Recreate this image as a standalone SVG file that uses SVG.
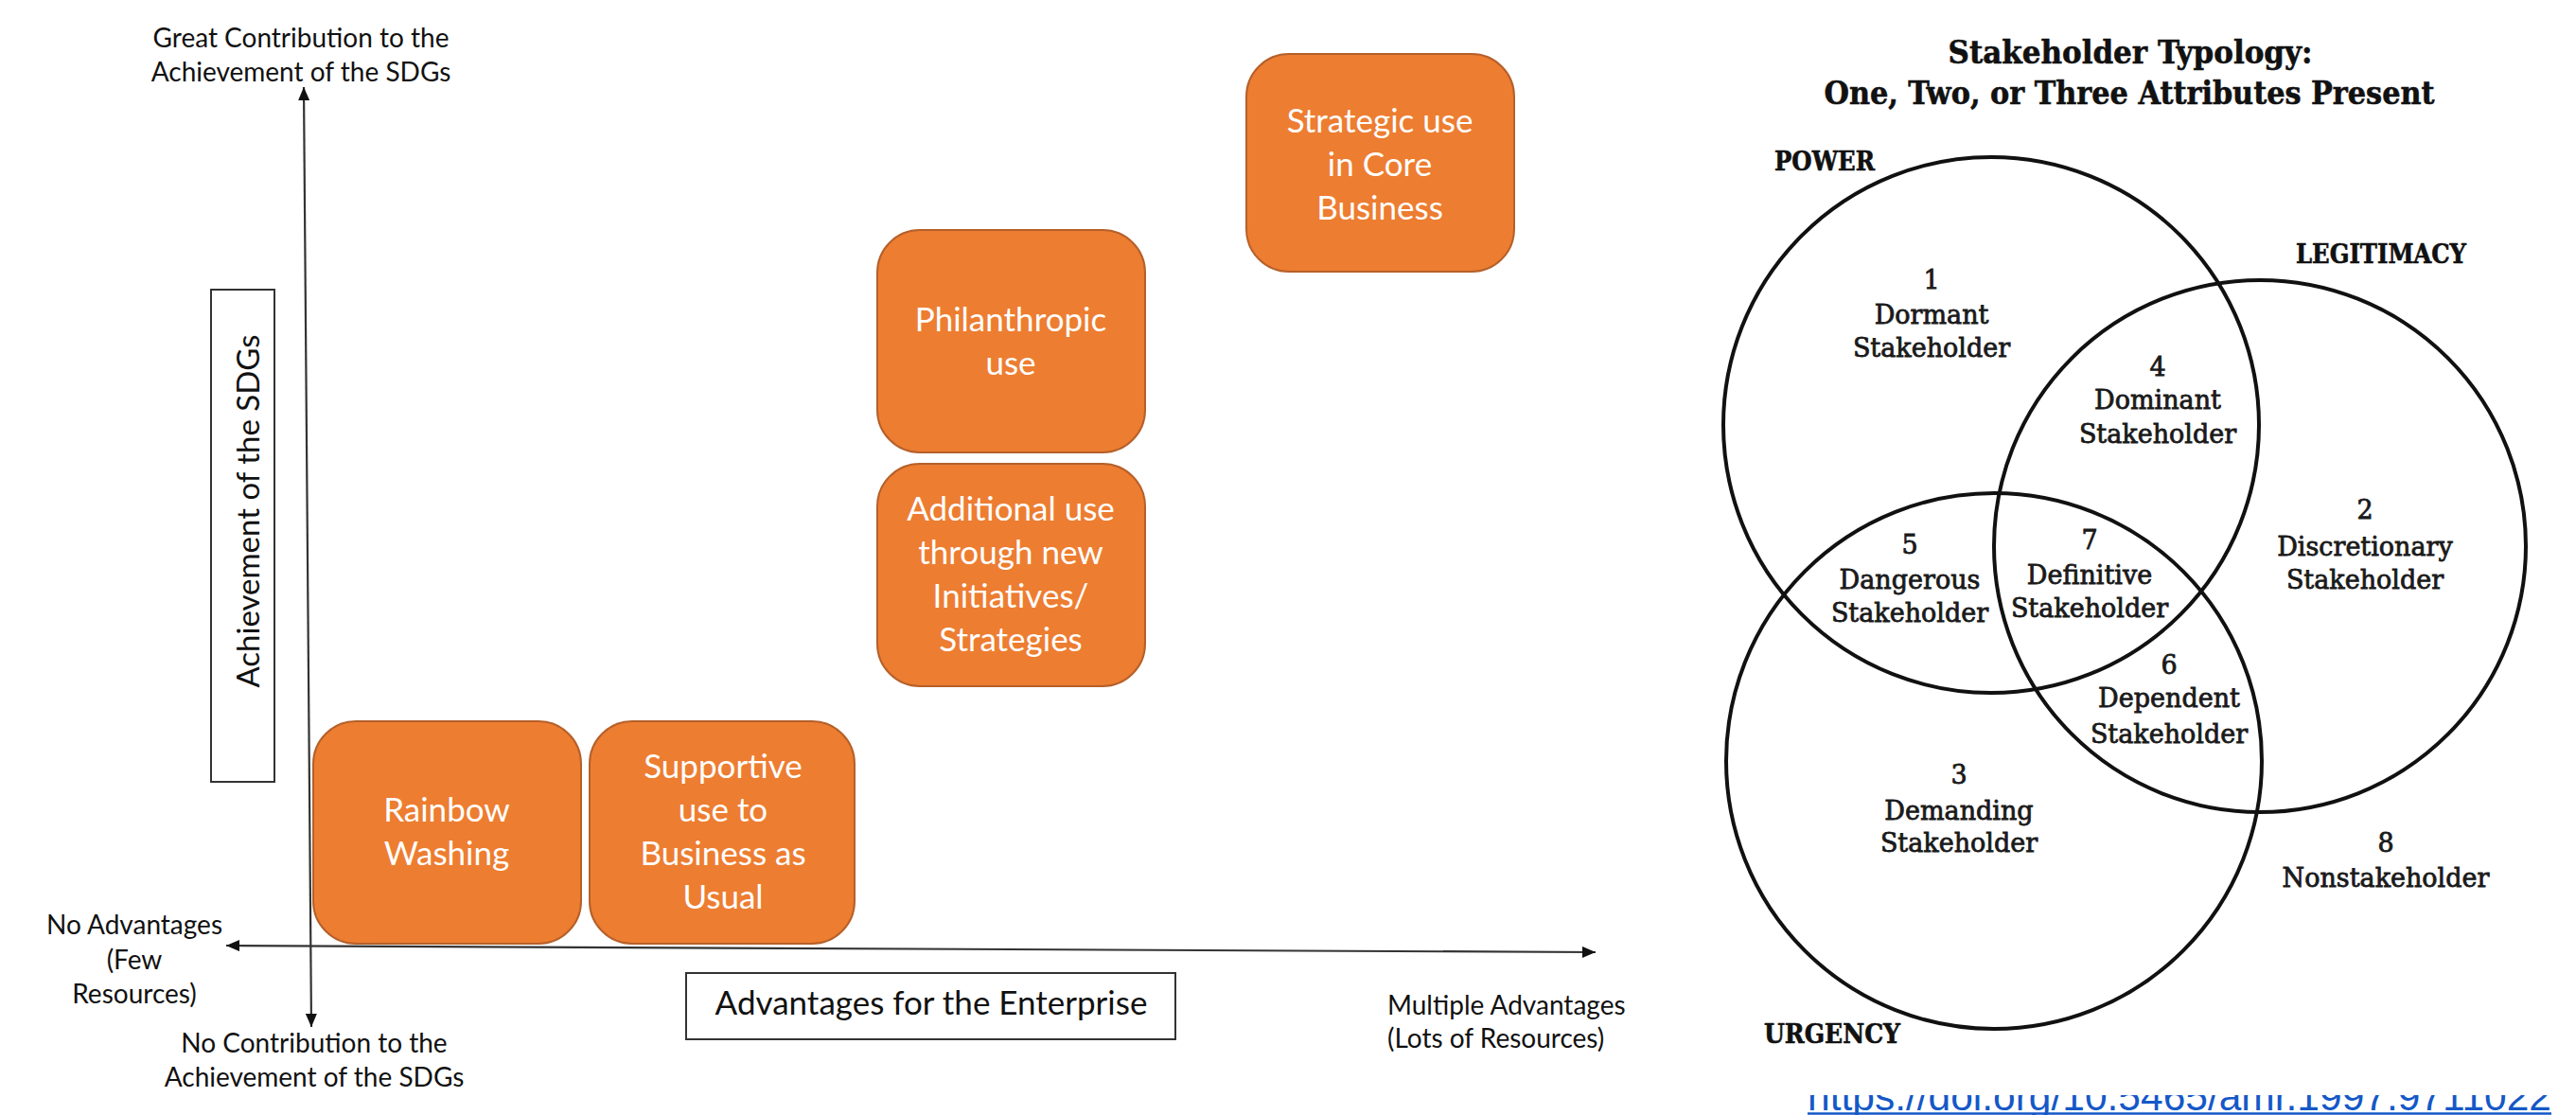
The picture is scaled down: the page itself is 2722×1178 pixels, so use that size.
<svg xmlns="http://www.w3.org/2000/svg" width="2722" height="1178" viewBox="0 0 2722 1178">
<defs>
<style>
.lbl{font-family:Lato,"Open Sans","Liberation Sans",sans-serif;font-size:28px;fill:#111;text-anchor:middle}
.lbl2{font-family:Lato,"Open Sans","Liberation Sans",sans-serif;font-size:35px;fill:#111;text-anchor:middle}
.box{fill:#ED7D31;stroke:#B5602A;stroke-width:2}
.btx{font-family:Lato,"Open Sans","Liberation Sans",sans-serif;font-size:35px;fill:#fff;text-anchor:middle}
.frame{fill:#fff;stroke:#333;stroke-width:2}
.axis{stroke:#333;stroke-width:2.2;fill:none}
.circ{fill:none;stroke:#111;stroke-width:4}
.vt{font-family:"DejaVu Serif","Liberation Serif",serif;font-size:27px;fill:#1a1a1a;stroke:#1a1a1a;stroke-width:0.8;text-anchor:middle}
.vh{font-family:"DejaVu Serif","Liberation Serif",serif;font-weight:bold;fill:#111;stroke:#111;stroke-width:0.6}
.url{font-family:"Liberation Sans",Arial,sans-serif;font-size:42px;fill:#1558C8}
</style>
<marker id="arr" viewBox="0 0 14 12" refX="14" refY="6" markerWidth="14" markerHeight="12" markerUnits="userSpaceOnUse" orient="auto-start-reverse">
<path d="M0,0 L14,6 L0,12 z" fill="#111"/>
</marker>
<clipPath id="urlclip"><rect x="1880" y="1157" width="842" height="21"/></clipPath>
</defs>
<rect width="2722" height="1178" fill="#fff"/>

<g id="connectors">
<line class="axis" x1="321" y1="92" x2="329" y2="1085" marker-start="url(#arr)" marker-end="url(#arr)"/>
<line class="axis" x1="239" y1="999" x2="1686" y2="1006" marker-start="url(#arr)" marker-end="url(#arr)"/>
</g>

<g id="axis-labels">
<text class="lbl" x="318" y="50">Great Contribution to the</text>
<text class="lbl" x="318" y="86">Achievement of the SDGs</text>
<text class="lbl" x="142" y="987">No Advantages</text>
<text class="lbl" x="142" y="1024">(Few</text>
<text class="lbl" x="142" y="1060">Resources)</text>
<text class="lbl" x="332" y="1112">No Contribution to the</text>
<text class="lbl" x="332" y="1148">Achievement of the SDGs</text>
<text class="lbl" x="1466" y="1072" style="text-anchor:start">Multiple Advantages</text>
<text class="lbl" x="1466" y="1107" style="text-anchor:start">(Lots of Resources)</text>
</g>

<g id="y-title">
<rect class="frame" x="223" y="306" width="67" height="520"/>
<text class="lbl2" style="font-size:33px" transform="translate(274,540) rotate(-90)">Achievement of the SDGs</text>
</g>

<g id="x-title">
<rect class="frame" x="725" y="1028" width="517" height="70"/>
<text class="lbl2" x="984" y="1072">Advantages for the Enterprise</text>
</g>

<g id="rainbow">
<rect class="box" x="331" y="762" width="283" height="235" rx="45"/>
<text class="btx" x="472" y="868">Rainbow</text>
<text class="btx" x="472" y="914">Washing</text>
</g>

<g id="supportive">
<rect class="box" x="623" y="762" width="280" height="235" rx="45"/>
<text class="btx" x="764" y="822">Supportive</text>
<text class="btx" x="764" y="868">use to</text>
<text class="btx" x="764" y="914">Business as</text>
<text class="btx" x="764" y="960">Usual</text>
</g>

<g id="philanthropic">
<rect class="box" x="927" y="243" width="283" height="235" rx="45"/>
<text class="btx" x="1068" y="350">Philanthropic</text>
<text class="btx" x="1068" y="396">use</text>
</g>

<g id="additional">
<rect class="box" x="927" y="490" width="283" height="235" rx="45"/>
<text class="btx" x="1068" y="550">Additional use</text>
<text class="btx" x="1068" y="596">through new</text>
<text class="btx" x="1068" y="642">Initiatives/</text>
<text class="btx" x="1068" y="688">Strategies</text>
</g>

<g id="strategic">
<rect class="box" x="1317" y="57" width="283" height="230" rx="45"/>
<text class="btx" x="1458" y="140">Strategic use</text>
<text class="btx" x="1458" y="186">in Core</text>
<text class="btx" x="1458" y="232">Business</text>
</g>

<g id="venn">
<g id="venn-title">
<text class="vh" x="2251" y="67" font-size="33" text-anchor="middle" textLength="385" lengthAdjust="spacingAndGlyphs">Stakeholder Typology:</text>
<text class="vh" x="2250" y="110" font-size="33" text-anchor="middle" textLength="645" lengthAdjust="spacingAndGlyphs">One, Two, or Three Attributes Present</text>
</g>
<g id="power">
<circle class="circ" cx="2104" cy="449" r="283"/>
<text class="vh" x="1875" y="180" font-size="27" textLength="106" lengthAdjust="spacingAndGlyphs">POWER</text>
</g>
<g id="legitimacy">
<circle class="circ" cx="2388" cy="577" r="281"/>
<text class="vh" x="2426" y="278" font-size="27" textLength="180" lengthAdjust="spacingAndGlyphs">LEGITIMACY</text>
</g>
<g id="urgency">
<circle class="circ" cx="2107" cy="804" r="283"/>
<text class="vh" x="1864" y="1102" font-size="27" textLength="144" lengthAdjust="spacingAndGlyphs">URGENCY</text>
</g>
<g id="region1">
<text class="vt" x="2041" y="305">1</text>
<text class="vt" x="2041" y="342">Dormant</text>
<text class="vt" x="2041" y="377">Stakeholder</text>
</g>
<g id="region4">
<text class="vt" x="2280" y="397">4</text>
<text class="vt" x="2280" y="432">Dominant</text>
<text class="vt" x="2280" y="468">Stakeholder</text>
</g>
<g id="region2">
<text class="vt" x="2499" y="548">2</text>
<text class="vt" x="2499" y="587">Discretionary</text>
<text class="vt" x="2499" y="622">Stakeholder</text>
</g>
<g id="region5">
<text class="vt" x="2018" y="585">5</text>
<text class="vt" x="2018" y="622">Dangerous</text>
<text class="vt" x="2018" y="657">Stakeholder</text>
</g>
<g id="region7">
<text class="vt" x="2208" y="580">7</text>
<text class="vt" x="2208" y="617">Definitive</text>
<text class="vt" x="2208" y="652">Stakeholder</text>
</g>
<g id="region6">
<text class="vt" x="2292" y="712">6</text>
<text class="vt" x="2292" y="747">Dependent</text>
<text class="vt" x="2292" y="785">Stakeholder</text>
</g>
<g id="region3">
<text class="vt" x="2070" y="828">3</text>
<text class="vt" x="2070" y="866">Demanding</text>
<text class="vt" x="2070" y="900">Stakeholder</text>
</g>
<g id="region8">
<text class="vt" x="2521" y="900">8</text>
<text class="vt" x="2521" y="937">Nonstakeholder</text>
</g>
</g>

<g id="source-link" clip-path="url(#urlclip)">
<text class="url" x="1910" y="1173" textLength="786" lengthAdjust="spacingAndGlyphs">https://doi.org/10.5465/amr.1997.9711022</text>
<line x1="1910" y1="1176.5" x2="2696" y2="1176.5" stroke="#1558C8" stroke-width="2.5"/>
</g>
</svg>
